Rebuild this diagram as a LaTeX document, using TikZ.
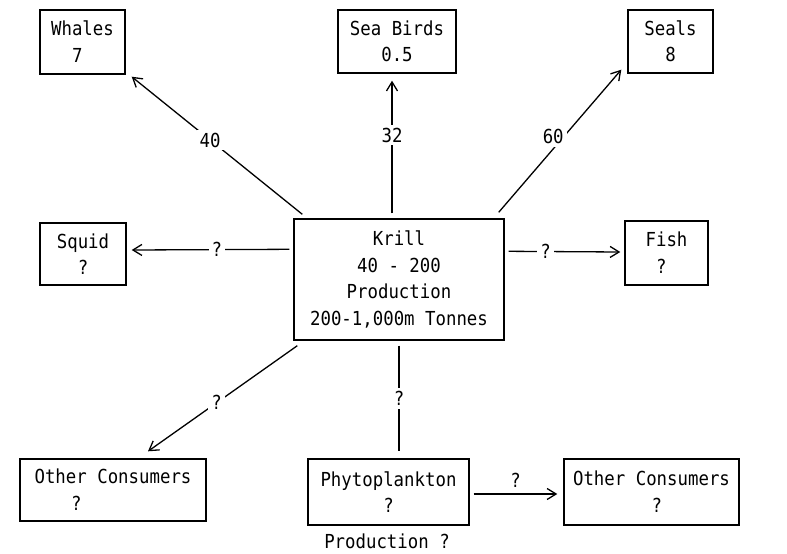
\documentclass[tikz,border=0pt]{standalone}
\usepackage{fontspec}
\setmonofont[FakeStretch=0.9]{DejaVu Sans Mono}
\usetikzlibrary{arrows.meta,calc}
\begin{document}
\begin{tikzpicture}[x=1pt,y=-1pt,
  box/.style={draw,line width=1.4pt,align=center,inner sep=0pt,font=\ttfamily\fontsize{19.3}{26.5}\selectfont},
  lab/.style={fill=white,inner sep=3pt,font=\ttfamily\fontsize{19.3}{26.5}\selectfont},
  txt/.style={inner sep=0pt,font=\ttfamily\fontsize{19.3}{26.5}\selectfont},
  conn/.style={line width=1.3pt},
  arr/.style={conn,-{Straight Barb[length=9pt,width=11pt,line width=1.3pt]}}]
\useasboundingbox (0,0) rectangle (787,554);
\node[box,minimum width=85,minimum height=64] (whales) at (82.5,42) {Whales\\\phantom{Wh}7\phantom{les}};
\node[box,minimum width=118,minimum height=63] (seabirds) at (397,41.5) {Sea Birds\\0.5};
\node[box,minimum width=85,minimum height=63] (seals) at (670.5,41.5) {Seals\\8};
\node[box,minimum width=86,minimum height=62] (squid) at (83,254) {Squid\\?};
\node[box,minimum width=83,minimum height=64] (fish) at (666.5,253) {Fish\\\phantom{F}?\phantom{sh}};
\node[box,minimum width=210,minimum height=121] (krill) at (399,279.5) {Krill\\40 - 200\\Production\\200-1,000m Tonnes};
\node[box,minimum width=186,minimum height=62] (ocl) at (113,490) {Other Consumers\\\phantom{Othe}?\phantom{r Consumers}};
\node[box,minimum width=161,minimum height=66] (phyto) at (388.5,492) {Phytoplankton\\?};
\node[box,minimum width=175,minimum height=66] (ocr) at (651.5,492) {Other Consumers\\\phantom{Other Co}?\phantom{nsumers}};
\node[txt] (prod) at (387,541) {Production ?};

\draw[arr] ($(krill.north west)+(9,-4)$) -- node[lab,pos=0.54] {40} ($(whales.south east)+(6,2)$);
\draw[arr] ($(krill.north)+(-7,-5)$) -- node[lab,pos=0.59] {32} ($(seabirds.south)+(-5,7)$);
\draw[arr] ($(krill.north east)+(-6,-6)$) -- node[lab,pos=0.51,xshift=-8pt,yshift=3pt] {60} ($(seals.south west)+(-6,-4)$);
\draw[arr] ($(krill.north west)+(-4,31)$) -- node[lab,pos=0.46] {?} ($(squid.east)+(5,-4)$);
\draw[arr] ($(krill.north east)+(4,33)$) -- node[lab,pos=0.33] {?} ($(fish.west)+(-4,-1)$);
\draw[arr] ($(krill.south west)+(4,5)$) -- node[lab,pos=0.54] {?} ($(ocl.north)+(35,-7)$);
\draw[conn] ($(krill.south)+(0,5)$) -- node[lab,pos=0.5] {?} ($(phyto.north)+(10.5,-7)$);
\draw[arr] ($(phyto.east)+(4,2)$) -- node[txt,above=6pt] {?} ($(ocr.west)+(-6,2)$);
\end{tikzpicture}
\end{document}
